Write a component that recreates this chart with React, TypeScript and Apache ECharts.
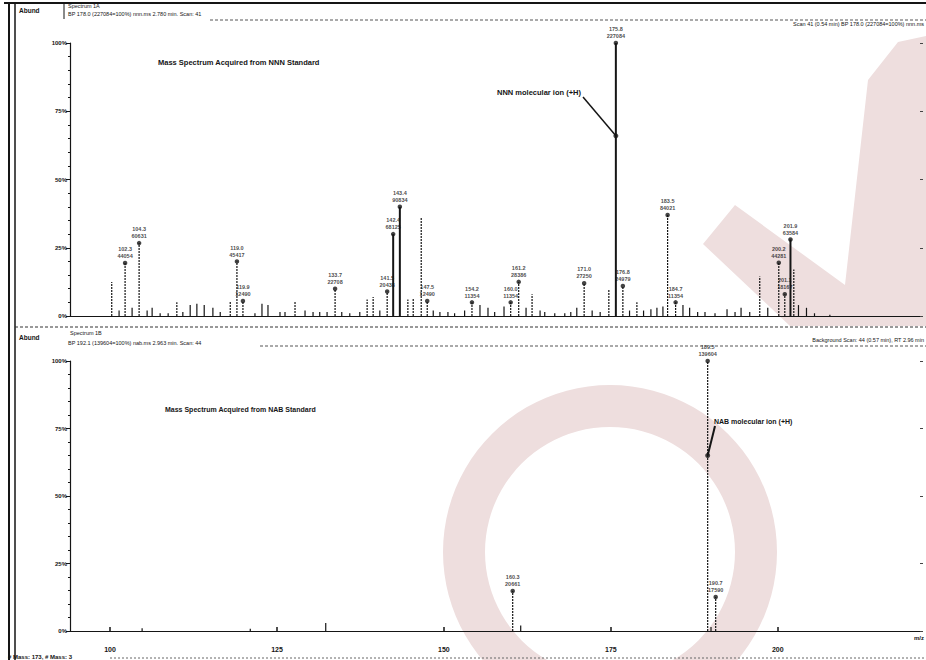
import React, { useEffect, useRef } from "react";
import * as echarts from "echarts";

// ---------- data (m/z, relative abundance %) ----------
const upperMz = [
  100.25, 101.35, 102.25, 103.3, 104.35, 105.55, 106.3, 107.5, 108.7, 110.0, 110.9, 112.0, 113.0, 114.1,
  115.4, 116.5, 118.0, 119.0, 119.9, 121.7, 122.75, 123.65, 125.45, 126.2, 127.7, 129.2, 130.4, 131.4,
  132.5, 133.7, 134.7, 135.9, 137.4, 138.5, 139.4, 140.4, 141.5, 142.4, 143.4, 144.6, 145.4, 146.6,
  147.5, 148.4, 149.4, 150.6, 151.6, 153.1, 154.2, 155.4, 156.6, 157.6, 159.0, 160.0, 161.2, 162.3,
  163.2, 164.4, 165.1, 166.6, 168.1, 169.0, 169.9, 171.0, 172.2, 173.4, 174.7, 175.75, 176.8, 177.8,
  178.9, 179.9, 181.0, 181.9, 182.8, 183.5, 184.7, 185.8, 186.8, 188.0, 189.1, 190.6, 192.4, 193.6,
  194.5, 195.8, 197.3, 198.5, 200.15, 201.05, 201.9, 202.4, 203.1, 204.3, 205.5, 207.8,
];
const upperPct = [
  12.5, 2, 19.4, 3, 26.7, 2, 3, 1, 1, 5, 1.5, 4, 4.5, 4,
  3, 1.5, 5.5, 20, 5.5, 1, 4.5, 4, 1.5, 1.5, 5.5, 2, 1.5, 1.5,
  1.5, 10, 1.5, 1, 1.5, 6, 7, 2, 9, 30, 40, 6, 6.5, 36,
  5.5, 2, 1.5, 1.5, 1, 2, 5, 4, 3, 1.5, 3.5, 5, 12.5, 3,
  8, 2, 1.5, 1, 1, 1.5, 3, 12, 2, 1.5, 9.5, 100, 11, 2,
  5, 2, 2.5, 3, 3.5, 37, 5, 4, 3, 1.5, 1.5, 1, 2.5, 1.5,
  3, 1.5, 14.5, 3, 19.5, 8, 28, 17, 4, 3, 1, 0.5,
];
const upperLabeled = [102.25, 104.35, 119.0, 119.9, 133.7, 141.5, 142.4, 143.4, 147.5, 154.2, 160.0, 161.2, 171.0, 175.75, 176.8, 183.5, 184.7, 200.15, 201.05, 201.9];
const upperSolid = [175.75, 201.9, 143.4, 142.4];
const upperBase = 227084;
const upperIon = [175.75, 66];

const lowerMz = [104.8, 121.0, 132.3, 160.3, 161.5, 189.5, 190.0, 190.7];
const lowerPct = [1, 0.8, 3, 14.8, 2, 100, 1.5, 12.6];
const lowerLabeled = [160.3, 189.5, 190.7];
const lowerSolid: number[] = [];
const lowerBase = 139604;
const lowerIon = [189.5, 65];

const yTicks = [0, 25, 50, 75, 100];
const xTickValues = [100, 125, 150, 175, 200];
const xMin = 94;
const xMax = 221.3;

const FONT = "Liberation Sans";
const INK = "#151515";
const WM = "#eedede";

function stickSeries(mz: number[], pct: number[], solid: number[], basePeak: number, xi: number, yi: number) {
  return {
    type: "custom",
    xAxisIndex: xi,
    yAxisIndex: yi,
    z: 3,
    data: mz.map((m, i) => [m, pct[i]]),
    renderItem: (params: any, api: any) => {
      const x = api.value(0);
      const y = api.value(1);
      const p0 = api.coord([x, 0]);
      const p1 = api.coord([x, y]);
      const isBase = x === basePeak;
      const isSolid = solid.indexOf(x) >= 0;
      const dotted = !isBase && !isSolid && y >= 5;
      return {
        type: "line",
        shape: { x1: p0[0], y1: p0[1], x2: p1[0], y2: p1[1] },
        style: {
          stroke: INK,
          lineWidth: isBase || isSolid ? 2 : 1.2,
          lineDash: dotted ? [2, 1] : null,
        },
      };
    },
  };
}

function labelSeries(mz: number[], pct: number[], labeled: number[], base: number, xi: number, yi: number) {
  return {
    type: "scatter",
    xAxisIndex: xi,
    yAxisIndex: yi,
    z: 4,
    symbol: "circle",
    symbolSize: 4.5,
    itemStyle: { color: INK },
    data: labeled.map((m) => [m, pct[mz.indexOf(m)]]),
    label: {
      show: true,
      position: "top",
      distance: 1,
      fontSize: 5.5,
      lineHeight: 7,
      fontWeight: "bold",
      fontFamily: FONT,
      color: INK,
      formatter: (p: any) => `${p.value[0].toFixed(1)}\n${Math.round((p.value[1] / 100) * base)}`,
    },
  };
}

function yAxisPair(grid: number) {
  return [
    {
      gridIndex: grid,
      type: "value",
      min: 0,
      max: 100,
      interval: 25,
      axisLine: { show: true, lineStyle: { color: INK, width: 1.2 } },
      axisTick: { show: true, length: 4, lineStyle: { color: INK } },
      minorTick: { show: true, splitNumber: 5, length: 2, lineStyle: { color: INK } },
      splitLine: { show: false },
      axisLabel: {
        formatter: "{value}%",
        fontSize: 6,
        fontWeight: "bold",
        fontFamily: FONT,
        color: INK,
        margin: 3,
        customValues: yTicks,
      },
    },
    {
      gridIndex: grid,
      type: "value",
      position: "right",
      min: 0,
      max: 100,
      interval: 25,
      axisLine: { show: false },
      axisTick: { show: true, length: 3, lineStyle: { color: "#444" } },
      splitLine: { show: false },
      axisLabel: { show: false },
    },
  ];
}

function txt(x: number, y: number, text: string, size: number, bold = true, align = "left") {
  return {
    type: "text",
    x,
    y,
    z: 5,
    style: {
      text,
      fontSize: size,
      fontWeight: bold ? "bold" : "normal",
      fontFamily: FONT,
      fill: INK,
      align,
      verticalAlign: "middle",
    },
  };
}

function ln(x1: number, y1: number, x2: number, y2: number, w = 1, dash: number[] | null = null, color = INK) {
  return {
    type: "line",
    z: 5,
    shape: { x1, y1, x2, y2 },
    style: { stroke: color, lineWidth: w, lineDash: dash },
  };
}

export default function App() {
  const ref = useRef<HTMLDivElement>(null);

  useEffect(() => {
    if (!ref.current) return;
    const chart = echarts.init(ref.current, null, { renderer: "svg" });
    const [y0, y1] = yAxisPair(0);
    const [y2, y3] = yAxisPair(1);
    chart.setOption({
      animation: false,
      backgroundColor: "#ffffff",
      grid: [
        { left: 70, top: 43, width: 850, height: 273 },
        { left: 70, top: 361, width: 850, height: 270 },
      ],
      xAxis: [
        {
          gridIndex: 0,
          type: "value",
          min: xMin,
          max: xMax,
          axisLine: { show: true, lineStyle: { color: INK, width: 1 } },
          axisTick: { show: false },
          axisLabel: { show: false },
          splitLine: { show: false },
        },
        {
          gridIndex: 1,
          type: "value",
          min: xMin,
          max: xMax,
          offset: 12,
          axisLine: { show: true, lineStyle: { color: INK, width: 1.2 } },
          axisTick: { show: true, inside: true, length: 4, customValues: xTickValues, lineStyle: { color: INK, width: 1.5 } },
          axisLabel: {
            show: true,
            customValues: xTickValues,
            fontSize: 7,
            fontWeight: "bold",
            fontFamily: FONT,
            color: INK,
            margin: 3,
          },
          splitLine: { show: false },
          name: "m/z",
          nameLocation: "end",
          nameGap: 2,
          nameTextStyle: { fontSize: 6, fontWeight: "bold", fontFamily: FONT, color: INK, verticalAlign: "top", padding: [4, 0, 0, -8] },
        },
        {
          gridIndex: 1,
          type: "value",
          min: xMin,
          max: xMax,
          axisLine: { show: true, lineStyle: { color: INK, width: 1 } },
          axisTick: { show: false },
          axisLabel: { show: false },
          splitLine: { show: false },
        },
      ],
      yAxis: [y0, y1, y2, y3],
      series: [
        stickSeries(upperMz, upperPct, upperSolid, 175.75, 0, 0),
        labelSeries(upperMz, upperPct, upperLabeled, upperBase, 0, 0),
        stickSeries(lowerMz, lowerPct, lowerSolid, -1, 2, 2),
        labelSeries(lowerMz, lowerPct, lowerLabeled, lowerBase, 2, 2),
        {
          type: "scatter",
          xAxisIndex: 0,
          yAxisIndex: 0,
          z: 4,
          symbolSize: 5,
          itemStyle: { color: INK },
          data: [upperIon],
        },
        {
          type: "scatter",
          xAxisIndex: 2,
          yAxisIndex: 2,
          z: 4,
          symbolSize: 5,
          itemStyle: { color: INK },
          data: [lowerIon],
        },
      ],
    });

    const pU = chart.convertToPixel({ xAxisIndex: 0, yAxisIndex: 0 }, upperIon) as number[];
    const pL = chart.convertToPixel({ xAxisIndex: 2, yAxisIndex: 2 }, lowerIon) as number[];

    const graphic: any[] = [
      // watermark
      {
        type: "ring",
        z: -10,
        silent: true,
        shape: { cx: 610, cy: 552, r: 167, r0: 125 },
        style: { fill: WM },
      },
      {
        type: "polygon",
        z: -10,
        silent: true,
        shape: {
          points: [
            [703, 244], [735, 205], [845, 285], [868, 80], [898, 42], [926, 36], [926, 326], [790, 326],
          ],
        },
        style: { fill: WM },
      },
      // frame
      ln(4, 3, 926, 3, 2),
      ln(9, 3, 9, 660, 2),
      ln(15, 3, 15, 660, 1.5),
      ln(64, 4, 64, 19, 1),
      ln(15, 327, 926, 327, 1, [3, 2], "#333"),
      ln(210, 20, 926, 20, 1, [3, 2], "#555"),
      ln(260, 346, 926, 346, 1, [3, 2], "#555"),
      ln(110, 658, 926, 658, 1, [2, 2], "#666"),
      // headers
      txt(19, 10, "Abund", 6.5),
      txt(68, 6, "Spectrum 1A", 5.5, false),
      txt(68, 14, "BP 178.0 (227084=100%) nnn.ms 2.780 min. Scan: 41", 5.5, false),
      txt(924, 24, "Scan 41 (0.54 min) BP 178.0 (227084=100%) nnn.ms", 5.5, false, "right"),
      txt(19, 337, "Abund", 6.5),
      txt(70, 333, "Spectrum 1B", 5.5, false),
      txt(68, 343, "BP 192.1 (139604=100%) nab.ms 2.963 min. Scan: 44", 5.5, false),
      txt(924, 340, "Background Scan: 44 (0.57 min), RT 2.96 min", 5.5, false, "right"),
      txt(8, 657, "# Mass: 173, # Mass: 3", 6),
      // titles
      txt(158, 62, "Mass Spectrum Acquired from NNN Standard", 7.5),
      txt(165, 409, "Mass Spectrum Acquired from NAB Standard", 7),
      // annotations
      txt(497, 92, "NNN molecular ion (+H)", 7.5),
      ln(583, 97, pU[0], pU[1], 1.5),
      txt(714, 421, "NAB molecular ion (+H)", 7),
      ln(715, 426, pL[0], pL[1], 2),
    ];
    chart.setOption({ graphic });

    return () => chart.dispose();
  }, []);

  return <div ref={ref} style={{ position: "fixed", left: 0, top: 0, width: 926, height: 660 }} />;
}
